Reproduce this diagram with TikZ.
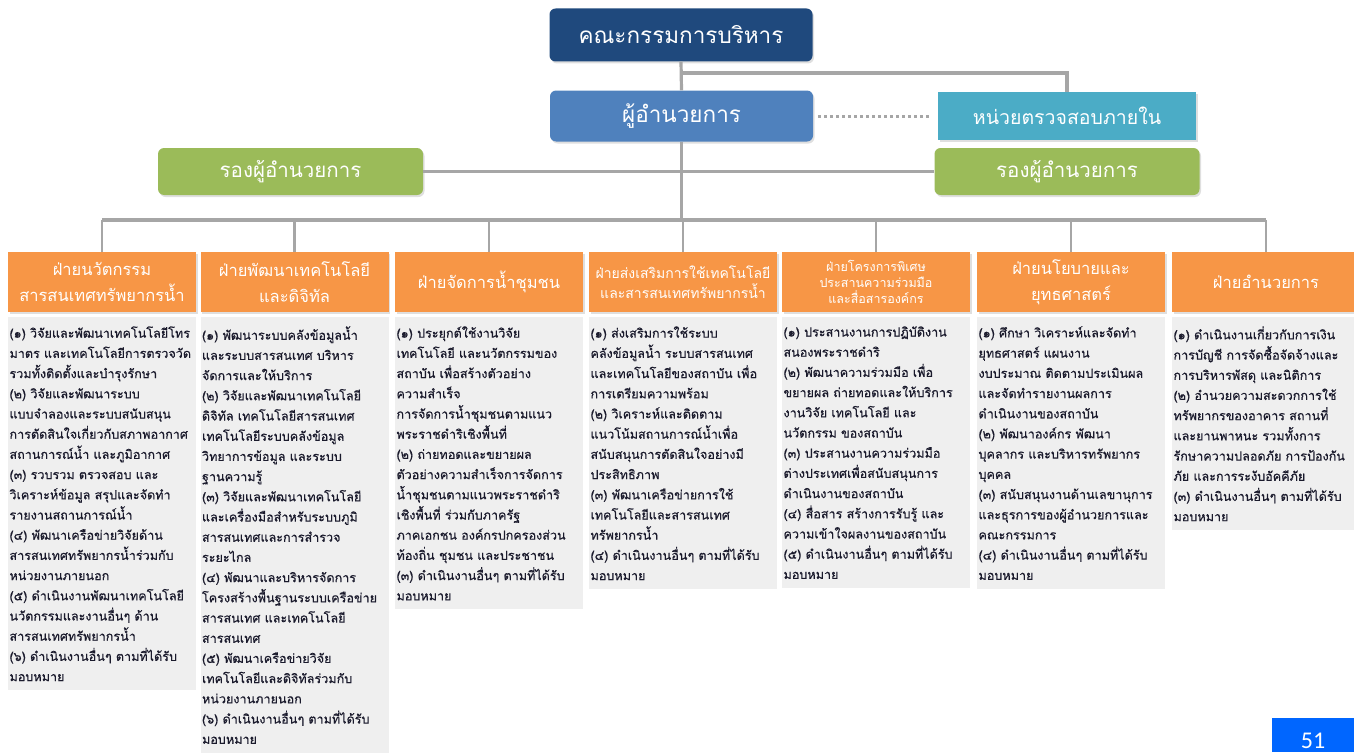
\documentclass[tikz,border=0pt]{standalone}
\usepackage{fontspec}
\setmainfont[Script=Thai]{Loma}
\newfontfamily\dutyfont[Script=Thai, FakeBold=0.5]{Loma}
\newfontfamily\numfont{Carlito}
\usetikzlibrary{positioning,shadows}
\definecolor{navy}{HTML}{1F497D}
\definecolor{steel}{HTML}{4F81BD}
\definecolor{aqua}{HTML}{4BACC6}
\definecolor{olive}{HTML}{9BBB59}
\definecolor{tangerine}{HTML}{F79646}
\definecolor{panelgrey}{HTML}{EFEFEF}
\definecolor{linkgrey}{HTML}{A6A6A6}
\definecolor{inktext}{HTML}{1A1A2C}
\definecolor{pageblue}{HTML}{0066FF}

\begin{document}
\begin{tikzpicture}[x=1pt, y=-1pt, node distance=5pt,
    shade/.style = {drop shadow={opacity=0.25, shadow xshift=1.5pt, shadow yshift=-2pt}},
    top/.style = {shade, text=white, inner sep=0pt, align=center, rounded corners=6pt, minimum width=263pt},
    side/.style = {shade, text=white, inner sep=0pt, align=center, minimum width=258pt, minimum height=48pt},
    deputy/.style = {top, fill=olive, minimum width=265pt, minimum height=47pt, font=\fontsize{20.5}{24}\selectfont},
    unit/.style = {shade, fill=tangerine, text=white, inner sep=0pt, align=center, text width=186pt, minimum width=188pt, minimum height=60pt},
    duty/.style = {fill=panelgrey, text=inktext, anchor=north, inner xsep=1.5pt, inner ysep=9pt, text width=185pt, align=left, font=\dutyfont\fontsize{12.6}{20.2}\selectfont},
    link/.style = {draw=linkgrey, line width=3.2pt},
    drop/.style = {draw=linkgrey, line width=2.2pt},
    dotline/.style = {draw=linkgrey, line width=3pt, dash pattern=on 3pt off 3pt, shorten <=5pt, shorten >=6pt}]
    \useasboundingbox (0,0) rectangle (1354,752);

    \node[top, fill=navy, minimum height=53pt, font=\fontsize{22.5}{26}\selectfont] (board) at (681,35) {คณะกรรมการบริหาร};
    \node[top, fill=steel, minimum height=51pt, font=\fontsize{22.5}{26}\selectfont] (dir) at (681.5,116) {ผู้อำนวยการ};
    \node[side, fill=aqua, font=\fontsize{19.5}{22}\selectfont] (audit) at (1067,116) {หน่วยตรวจสอบภายใน};
    \node[deputy] (depL) at (290.5,171.5) {รองผู้อำนวยการ};
    \node[deputy] (depR) at (1067,171.5) {รองผู้อำนวยการ};
    \coordinate (tee) at (0,73);
    \coordinate (bus) at (0,220);

    \node[unit, font=\fontsize{16.5}{26}\selectfont] (u1) at (102,282) {ฝ่ายนวัตกรรม\\สารสนเทศทรัพยากรน้ำ};
    \node[unit, font=\fontsize{16.5}{26}\selectfont] (u2) at (294.5,282) {ฝ่ายพัฒนาเทคโนโลยี\\และดิจิทัล};
    \node[unit, font=\fontsize{16.5}{26}\selectfont] (u3) at (489,282) {ฝ่ายจัดการน้ำชุมชน};
    \node[unit, font=\fontsize{14}{20}\selectfont] (u4) at (683,282) {ฝ่ายส่งเสริมการใช้เทคโนโลยี\\และสารสนเทศทรัพยากรน้ำ};
    \node[unit, font=\fontsize{12.5}{16}\selectfont] (u5) at (876,282) {ฝ่ายโครงการพิเศษ\\ประสานความร่วมมือ\\และสื่อสารองค์กร};
    \node[unit, font=\fontsize{16.5}{26}\selectfont] (u6) at (1071,282) {ฝ่ายนโยบายและ\\ยุทธศาสตร์};
    \node[unit, font=\fontsize{16.5}{26}\selectfont] (u7) at (1266,282) {ฝ่ายอำนวยการ};

    \node[duty] (d1) [below=of u1] {(๑) วิจัยและพัฒนาเทคโนโลยีโทร\\มาตร และเทคโนโลยีการตรวจวัด\\รวมทั้งติดตั้งและบำรุงรักษา\\(๒) วิจัยและพัฒนาระบบ\\แบบจำลองและระบบสนับสนุน\\การตัดสินใจเกี่ยวกับสภาพอากาศ\\สถานการณ์น้ำ และภูมิอากาศ\\(๓) รวบรวม ตรวจสอบ และ\\วิเคราะห์ข้อมูล สรุปและจัดทำ\\รายงานสถานการณ์น้ำ\\(๔) พัฒนาเครือข่ายวิจัยด้าน\\สารสนเทศทรัพยากรน้ำร่วมกับ\\หน่วยงานภายนอก\\(๕) ดำเนินงานพัฒนาเทคโนโลยี\\นวัตกรรมและงานอื่นๆ ด้าน\\สารสนเทศทรัพยากรน้ำ\\(๖) ดำเนินงานอื่นๆ ตามที่ได้รับ\\มอบหมาย};
    \node[duty] (d2) [below=of u2] {(๑) พัฒนาระบบคลังข้อมูลน้ำ\\และระบบสารสนเทศ บริหาร\\จัดการและให้บริการ\\(๒) วิจัยและพัฒนาเทคโนโลยี\\ดิจิทัล เทคโนโลยีสารสนเทศ\\เทคโนโลยีระบบคลังข้อมูล\\วิทยาการข้อมูล และระบบ\\ฐานความรู้\\(๓) วิจัยและพัฒนาเทคโนโลยี\\และเครื่องมือสำหรับระบบภูมิ\\สารสนเทศและการสำรวจ\\ระยะไกล\\(๔) พัฒนาและบริหารจัดการ\\โครงสร้างพื้นฐานระบบเครือข่าย\\สารสนเทศ และเทคโนโลยี\\สารสนเทศ\\(๕) พัฒนาเครือข่ายวิจัย\\เทคโนโลยีและดิจิทัลร่วมกับ\\หน่วยงานภายนอก\\(๖) ดำเนินงานอื่นๆ ตามที่ได้รับ\\มอบหมาย};
    \node[duty] (d3) [below=of u3] {(๑) ประยุกต์ใช้งานวิจัย\\เทคโนโลยี และนวัตกรรมของ\\สถาบัน เพื่อสร้างตัวอย่าง\\ความสำเร็จ\\การจัดการน้ำชุมชนตามแนว\\พระราชดำริเชิงพื้นที่\\(๒) ถ่ายทอดและขยายผล\\ตัวอย่างความสำเร็จการจัดการ\\น้ำชุมชนตามแนวพระราชดำริ\\เชิงพื้นที่ ร่วมกับภาครัฐ\\ภาคเอกชน องค์กรปกครองส่วน\\ท้องถิ่น ชุมชน และประชาชน\\(๓) ดำเนินงานอื่นๆ ตามที่ได้รับ\\มอบหมาย};
    \node[duty] (d4) [below=of u4] {(๑) ส่งเสริมการใช้ระบบ\\คลังข้อมูลน้ำ ระบบสารสนเทศ\\และเทคโนโลยีของสถาบัน เพื่อ\\การเตรียมความพร้อม\\(๒) วิเคราะห์และติดตาม\\แนวโน้มสถานการณ์น้ำเพื่อ\\สนับสนุนการตัดสินใจอย่างมี\\ประสิทธิภาพ\\(๓) พัฒนาเครือข่ายการใช้\\เทคโนโลยีและสารสนเทศ\\ทรัพยากรน้ำ\\(๔) ดำเนินงานอื่นๆ ตามที่ได้รับ\\มอบหมาย};
    \node[duty] (d5) [below=of u5] {(๑) ประสานงานการปฏิบัติงาน\\สนองพระราชดำริ\\(๒) พัฒนาความร่วมมือ เพื่อ\\ขยายผล ถ่ายทอดและให้บริการ\\งานวิจัย เทคโนโลยี และ\\นวัตกรรม ของสถาบัน\\(๓) ประสานงานความร่วมมือ\\ต่างประเทศเพื่อสนับสนุนการ\\ดำเนินงานของสถาบัน\\(๔) สื่อสาร สร้างการรับรู้ และ\\ความเข้าใจผลงานของสถาบัน\\(๕) ดำเนินงานอื่นๆ ตามที่ได้รับ\\มอบหมาย};
    \node[duty] (d6) [below=of u6] {(๑) ศึกษา วิเคราะห์และจัดทำ\\ยุทธศาสตร์ แผนงาน\\งบประมาณ ติดตามประเมินผล\\และจัดทำรายงานผลการ\\ดำเนินงานของสถาบัน\\(๒) พัฒนาองค์กร พัฒนา\\บุคลากร และบริหารทรัพยากร\\บุคคล\\(๓) สนับสนุนงานด้านเลขานุการ\\และธุรการของผู้อำนวยการและ\\คณะกรรมการ\\(๔) ดำเนินงานอื่นๆ ตามที่ได้รับ\\มอบหมาย};
    \node[duty] (d7) [below=of u7] {(๑) ดำเนินงานเกี่ยวกับการเงิน\\การบัญชี การจัดซื้อจัดจ้างและ\\การบริหารพัสดุ และนิติการ\\(๒) อำนวยความสะดวกการใช้\\ทรัพยากรของอาคาร สถานที่\\และยานพาหนะ รวมทั้งการ\\รักษาความปลอดภัย การป้องกัน\\ภัย และการระงับอัคคีภัย\\(๓) ดำเนินงานอื่นๆ ตามที่ได้รับ\\มอบหมาย};

    \node[fill=pageblue, text=white, minimum width=82pt, minimum height=34pt, inner sep=0pt, font=\numfont\fontsize{24}{24}\selectfont] (page) at (1313,735) {\smash{\raisebox{-13pt}{51}}};

    \draw[link] (board.south) -- (dir.north);
    \draw[link] (board.south |- tee) -| (audit.north);
    \draw[dotline] (dir.east) -- (audit.west);
    \draw[link] (depL.east) -- (depR.west);
    \draw[link] (dir.south) -- (dir.south |- bus);
    \draw[link] (u1.north |- bus) -- (u7.north |- bus);
    \draw[drop] (u1.north |- bus) -- (u1.north);
    \draw[drop] (u2.north |- bus) -- (u2.north);
    \draw[drop] (u3.north |- bus) -- (u3.north);
    \draw[drop] (u4.north |- bus) -- (u4.north);
    \draw[drop] (u5.north |- bus) -- (u5.north);
    \draw[drop] (u6.north |- bus) -- (u6.north);
    \draw[drop] (u7.north |- bus) -- (u7.north);
\end{tikzpicture}
\end{document}
